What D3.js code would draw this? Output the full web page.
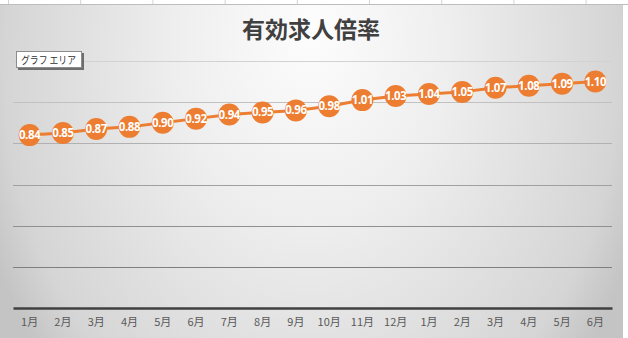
<!DOCTYPE html>
<html>
<head>
<meta charset="utf-8">
<script src="https://cdn.jsdelivr.net/npm/d3@7"></script>
<style>
  body { margin: 0; background: #f2f2f2; }
  svg { display: block; }
</style>
</head>
<body>
<div id="chart"></div>
<script>
// chart data
const months = ["1月","2月","3月","4月","5月","6月","7月","8月","9月","10月","11月","12月","1月","2月","3月","4月","5月","6月"];
const ratios = [0.84,0.85,0.87,0.88,0.90,0.92,0.94,0.95,0.96,0.98,1.01,1.03,1.04,1.05,1.07,1.08,1.09,1.10];
const yTicks = [0, 0.2, 0.4, 0.6, 0.8, 1.0, 1.2];
const chartTitle = "有効求人倍率";
const tipText = "グラフ エリア";

const W = 628, H = 338;
const margin = {top: 61, right: 16, bottom: 30, left: 13};
const plotW = 612 - margin.left;
const plotH = 308 - margin.top;

const svg = d3.select("#chart").append("svg")
    .attr("width", W)
    .attr("height", H);

// background gradient like Excel chart style
const defs = svg.append("defs");
const grad = defs.append("radialGradient")
    .attr("id", "bg")
    .attr("cx", "0.5").attr("cy", "0.2")
    .attr("fx", "0.5").attr("fy", "0.1")
    .attr("r", "1")
    .attr("gradientTransform", "translate(0.5,0.2) scale(0.56,1.35) translate(-0.5,-0.2)");
grad.append("stop").attr("offset", "0%").attr("stop-color", "#fdfdfd");
grad.append("stop").attr("offset", "40%").attr("stop-color", "#eeeeee");
grad.append("stop").attr("offset", "88%").attr("stop-color", "#d5d5d5");
grad.append("stop").attr("offset", "100%").attr("stop-color", "#c4c4c4");

// spreadsheet strip behind the chart
svg.append("rect").attr("width", W).attr("height", H).attr("fill", "#ffffff");
const cols = d3.range(8.5, W, 72.2);
svg.selectAll(".col").data(cols).join("line")
    .attr("x1", d => d).attr("x2", d => d)
    .attr("y1", 0).attr("y2", 5)
    .attr("stroke", "#d4d4d4");
svg.append("line").attr("x1", 0).attr("x2", W).attr("y1", 4.5).attr("y2", 4.5).attr("stroke", "#bdbdbd");

// chart area
svg.append("rect")
    .attr("x", 0).attr("y", 5)
    .attr("width", 623).attr("height", H - 5)
    .attr("fill", "url(#bg)");

const g = svg.append("g")
    .attr("transform", `translate(${margin.left},${margin.top})`);

// scales
const x = d3.scaleBand()
    .domain(d3.range(months.length))
    .range([0, plotW]);

const y = d3.scaleLinear()
    .domain([0, 1.2])
    .range([plotH, 0]);

const gridColor = d3.scaleLinear()
    .domain([0.2, 1.2])
    .range(["#7f7f7f", "#d2d2d2"]);

// gridlines
g.selectAll(".grid").data(yTicks.filter(d => d > 0)).join("line")
    .attr("class", "grid")
    .attr("x1", 0).attr("x2", plotW)
    .attr("y1", d => Math.round(y(d)) + 0.5)
    .attr("y2", d => Math.round(y(d)) + 0.5)
    .attr("stroke", d => gridColor(d))
    .attr("stroke-width", 1);

// x axis
const xAxis = d3.axisBottom(x)
    .tickSize(0)
    .tickPadding(10)
    .tickFormat(i => months[i]);

const xg = g.append("g")
    .attr("transform", `translate(0,${plotH})`)
    .call(xAxis);
xg.select(".domain").attr("stroke", "#404040").attr("stroke-width", 2.5);
xg.selectAll("text")
    .attr("fill", "#595959")
    .style("font-family", "'Noto Sans CJK JP', sans-serif")
    .style("font-size", "11px");

// line
const line = d3.line()
    .x((d, i) => x(i) + x.bandwidth() / 2)
    .y(d => y(d));

g.append("path")
    .datum(ratios)
    .attr("fill", "none")
    .attr("stroke", "#ed7d31")
    .attr("stroke-width", 3)
    .attr("d", line);

// markers
g.selectAll(".dot").data(ratios).join("circle")
    .attr("class", "dot")
    .attr("cx", (d, i) => x(i) + x.bandwidth() / 2)
    .attr("cy", d => y(d))
    .attr("r", 11)
    .attr("fill", "#ed7d31");

// data labels
g.selectAll(".lbl").data(ratios).join("text")
    .attr("class", "lbl")
    .attr("x", (d, i) => x(i) + x.bandwidth() / 2)
    .attr("y", d => y(d))
    .attr("dy", "0.35em")
    .attr("text-anchor", "middle")
    .attr("fill", "#ffffff")
    .style("font-family", "'Open Sans', sans-serif")
    .style("font-weight", "bold")
    .style("font-size", "11.5px")
    .style("letter-spacing", "-0.4px")
    .text(d => d3.format(".2f")(d));

// title
svg.append("text")
    .attr("x", 311)
    .attr("y", 38)
    .attr("text-anchor", "middle")
    .attr("fill", "#404040")
    .style("font-family", "'Noto Sans CJK JP', sans-serif")
    .style("font-weight", "bold")
    .style("font-size", "23px")
    .text(chartTitle);

// hover tip box
const tip = svg.append("g").attr("transform", "translate(16,51)");
tip.append("rect")
    .attr("x", 2).attr("y", 2)
    .attr("width", 66).attr("height", 17)
    .attr("fill", "#6e6e6e");
tip.append("rect")
    .attr("x", 0.5).attr("y", 0.5)
    .attr("width", 65).attr("height", 16)
    .attr("fill", "#ffffff")
    .attr("stroke", "#8c8c8c");
tip.append("text")
    .attr("x", 5).attr("y", 12.5)
    .attr("fill", "#333333")
    .attr("textLength", 55)
    .attr("lengthAdjust", "spacingAndGlyphs")
    .style("font-family", "'Noto Sans CJK JP', sans-serif")
    .style("font-size", "10.5px")
    .text(tipText);
</script>
</body>
</html>
